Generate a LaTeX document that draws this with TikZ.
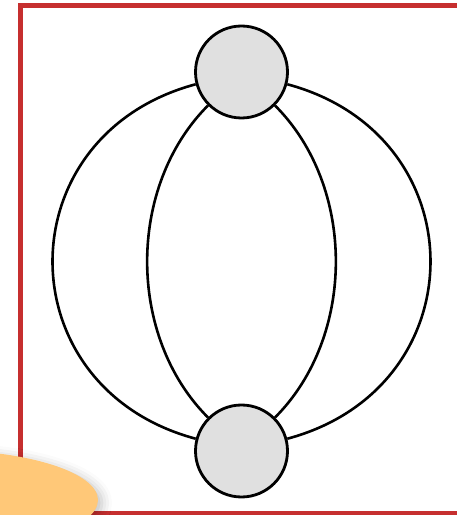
\documentclass[tikz,border=0pt]{standalone}
\usetikzlibrary{shadows.blur}
\definecolor{frame}{HTML}{C62F2F}
\definecolor{blob}{HTML}{FFC878}
\definecolor{vertex}{HTML}{E0E0E0}

\begin{document}
\begin{tikzpicture}[x=1pt, y=1pt,
    vert/.style={circle, draw, line width=2.8pt, fill=vertex, minimum size=92pt, inner sep=0pt},
    link/.style={line width=2.6pt},
    border/.style={line width=5pt, frame}
  ]
    \useasboundingbox (0,0) rectangle (457,515);
    \draw[border] (20.3,1) rectangle (470,509.3);

    \node[vert] (top) at (241.5,443) {};
    \node[vert] (bot) at (241.5,64) {};

    \draw[link] (top) to[out=195, in=165, looseness=1.43] (bot);
    \draw[link] (top) to[out=-15, in=15, looseness=1.43] (bot);
    \draw[link] (top) to[out=225, in=135, looseness=0.943] (bot);
    \draw[link] (top) to[out=-45, in=45, looseness=0.943] (bot);

    % note blob in the corner
    \fill[blob, blur shadow={shadow xshift=4pt, shadow yshift=-3pt, shadow blur radius=10pt, shadow opacity=25}]
      (-60,15) ellipse [x radius=158pt, y radius=50pt];
  \end{tikzpicture}
\end{document}
